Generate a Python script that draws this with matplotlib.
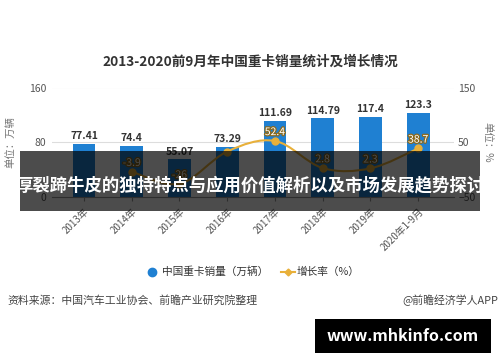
import numpy as np
import matplotlib.pyplot as plt
from matplotlib.patches import Rectangle
from matplotlib.path import Path
from matplotlib.patches import PathPatch
import matplotlib.patheffects as pe

plt.rcParams['font.family'] = ['Noto Sans CJK SC', 'DejaVu Sans']

years = ["2013年", "2014年", "2015年", "2016年", "2017年", "2018年", "2019年", "2020年1-9月"]
sales = [77.41, 74.4, 55.07, 73.29, 111.69, 114.79, 117.4, 123.3]
growth = [np.nan, -3.9, -26, 33.1, 52.4, 2.8, 2.3, 38.7]
growth_labels = [None, "-3.9", "-26", None, "52.4", "2.8", "2.3", "38.7"]

W, H = 500, 362
bar_color = "#1f80d2"
line_color = "#e8b03a"


def fx(x):
    return x / W


def fy(y):
    return 1 - y / H


fig = plt.figure(figsize=(5, 3.62), dpi=100)
ax = fig.add_axes([fx(52), fy(197), fx(454) - fx(52), fy(87.5) - fy(197)])
x = np.arange(len(years))

ax.bar(x, sales, width=0.48, color=bar_color, zorder=2)
for xi, v in zip(x, sales):
    ax.text(xi, v + 4, f"{v:g}", ha="center", va="bottom", fontsize=7.5,
            fontweight="bold", color="#333333")

ax.set_xlim(-0.67, 7.75)
ax.set_ylim(0, 160)
ax.set_yticks([0, 80, 160])
ax.yaxis.grid(True, color="#dddddd", linewidth=0.8)
ax.set_axisbelow(True)
for s in ["top", "right", "left"]:
    ax.spines[s].set_visible(False)
ax.spines["bottom"].set_color("#999999")
ax.tick_params(axis="y", length=0, labelsize=7.5, labelcolor="#555555", pad=4)
ax.tick_params(axis="x", length=3, color="#999999", labelsize=7, labelcolor="#555555")
ax.set_xticks(x)
ax.set_xticklabels(years, rotation=45, ha="right", rotation_mode="anchor")
ax.set_ylabel("单位：万辆", fontsize=7.5, color="#777777", labelpad=10)

ax2 = ax.twinx()
ax2.set_ylim(-50, 150)
ax2.set_yticks([-50, 50, 150])
for s in ax2.spines.values():
    s.set_visible(False)
ax2.tick_params(axis="y", length=0, labelsize=7.5, labelcolor="#555555", pad=3)
ax2.set_ylabel("单位：%", fontsize=7.5, color="#777777", rotation=270, labelpad=12)

# smooth curve through the growth points
gx = [xi for xi, g in zip(x, growth) if not np.isnan(g)]
gy = [g for g in growth if not np.isnan(g)]
pts = np.column_stack([gx, gy]).astype(float)
verts = [pts[0]]
codes = [Path.MOVETO]
n = len(pts)
for i in range(n - 1):
    p0 = pts[max(i - 1, 0)]
    p1 = pts[i]
    p2 = pts[i + 1]
    p3 = pts[min(i + 2, n - 1)]
    c1 = p1 + (p2 - p0) / 6
    c2 = p2 - (p3 - p1) / 6
    verts += [c1, c2, p2]
    codes += [Path.CURVE4] * 3
ax2.add_patch(PathPatch(Path(verts, codes), facecolor="none",
                        edgecolor=line_color, linewidth=1.5, zorder=3))
ax2.plot(gx, gy, "o", color=line_color, markersize=5, zorder=4)
for xi, g, lab in zip(x, growth, growth_labels):
    if lab:
        t = ax2.text(xi, g + 7, lab, ha="center", va="bottom", fontsize=7.5,
                     color="white", zorder=5)
        t.set_path_effects([pe.withStroke(linewidth=1.8, foreground="#8a6a20")])

fig.text(0.5, fy(62), "2013-2020前9月年中国重卡销量统计及增长情况", ha="center",
         va="center", fontsize=9.8, fontweight="bold", color="#333333")

# legend
fig.add_artist(plt.Line2D([fx(152)], [fy(272)], marker="o", color=bar_color,
                          markersize=6, linestyle="none", transform=fig.transFigure))
fig.text(fx(162), fy(272), "中国重卡销量（万辆）", ha="left", va="center",
         fontsize=7.7, color="#333333")
fig.add_artist(plt.Line2D([fx(281), fx(295)], [fy(272), fy(272)], color=line_color,
                          linewidth=1.5, transform=fig.transFigure))
fig.add_artist(plt.Line2D([fx(288)], [fy(272)], marker="D", color=line_color,
                          markersize=3.5, transform=fig.transFigure))
fig.text(fx(297), fy(272), "增长率（%）", ha="left", va="center",
         fontsize=7.7, color="#333333")

fig.text(fx(7), fy(300), "资料来源：中国汽车工业协会、前瞻产业研究院整理", ha="left",
         va="center", fontsize=7.8, color="#444444")
fig.text(fx(498), fy(300), "@前瞻经济学人APP", ha="right", va="center",
         fontsize=7.8, color="#444444")

# overlay banner
fig.add_artist(Rectangle((fx(20), fy(211)), fx(480) - fx(20), fy(151) - fy(211),
                         transform=fig.transFigure, facecolor="black", alpha=0.7,
                         edgecolor="none", zorder=5))
fig.text(0.5, fy(185), "厚裂蹄牛皮的独特特点与应用价值解析以及市场发展趋势探讨",
         ha="center", va="center", fontsize=12.5, fontweight="bold",
         color="white", zorder=6)

# site box
fig.add_artist(Rectangle((fx(315), fy(353)), fx(491) - fx(315), fy(319) - fy(353),
                         transform=fig.transFigure, facecolor="black",
                         edgecolor="none", zorder=5))
fig.text(fx(403), fy(336), "www.mhkinfo.com", ha="center", va="center",
         fontsize=11.5, fontweight="bold", color="white", zorder=6)

fig.savefig("out.png", dpi=100)
